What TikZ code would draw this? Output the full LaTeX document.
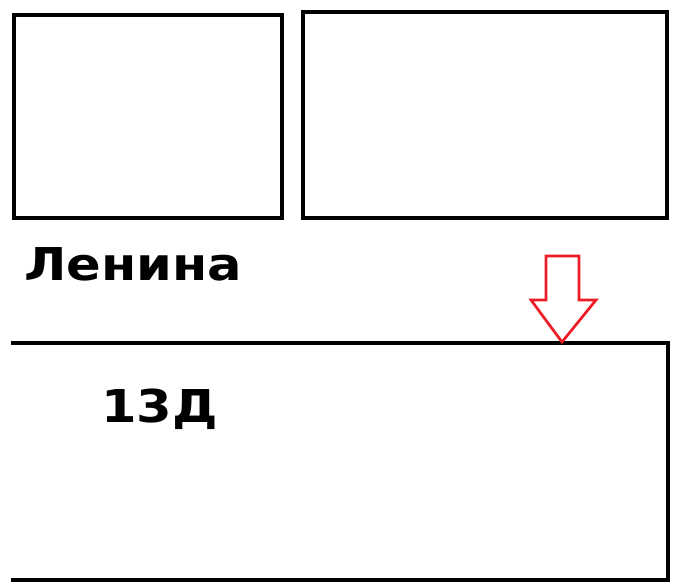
\documentclass[tikz,border=0pt]{standalone}
\usepackage{fontspec}
\setmainfont{DejaVu Sans}
\usepackage{graphicx}
\usepackage{tikz}
\usetikzlibrary{positioning}
\definecolor{arrowred}{HTML}{ED1C24}
\newcommand{\widetext}[1]{\scalebox{1.13}[1]{#1}}

\begin{document}
\begin{tikzpicture}[
    x=0.03cm, y=-0.03cm,
    box/.style={draw=black, line width=2.6pt},
    label/.style={font=\bfseries\fontsize{38.6}{40}\selectfont, inner sep=0pt, anchor=base west},
    pointer/.style={draw=arrowred, line width=2.3pt, line join=miter}
]
    \useasboundingbox (0,0) rectangle (680,586);

    % Верхние блоки
    \draw[box] (14,15) rectangle (282,218);
    \draw[box] (303,12) rectangle (667,218);

    % Нижний блок (без левой стороны)
    \draw[box] (11,343) -- (668,343) -- (668,580) -- (11,580);

    % Подписи
    \node[label] (street) at (24,280) {\widetext{Ленина}};
    \node[label] (house) at (101,422) {\widetext{13Д}};

    % Стрелка
    \draw[pointer] (546,256) -- (579,256) -- (579,300) -- (596,300)
        -- (562,342) -- (531,300) -- (546,300) -- cycle;
\end{tikzpicture}
\end{document}
